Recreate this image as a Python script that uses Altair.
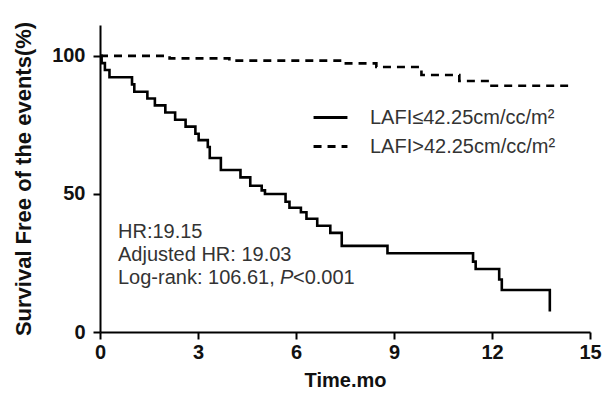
import altair as alt
import pandas as pd

# ---- data ----
lo_label = "LAFI≤42.25cm/cc/m²"
hi_label = "LAFI>42.25cm/cc/m²"

lo_time = [0, 0.05, 0.15, 0.29, 0.98, 1.05, 1.45, 1.68, 2.0, 2.3, 2.62, 2.92, 3.02,
           3.3, 3.36, 3.7, 4.3, 4.6, 4.95, 5.05, 5.68, 5.8, 6.15, 6.32, 6.65, 7.05,
           7.4, 8.8, 11.42, 11.5, 12.22, 12.3, 13.77]
lo_surv = [100, 97.4, 94.9, 92.3, 89.7, 87.0, 84.6, 82.1, 79.5, 76.9, 74.4, 71.8, 69.5,
           67.0, 63.0, 58.7, 56.0, 53.0, 51.3, 50.0, 47.2, 45.0, 43.4, 41.0, 38.5, 35.9,
           31.2, 28.5, 25.5, 22.8, 19.0, 15.2, 7.4]

hi_time = [0, 2.13, 3.96, 7.45, 8.46, 9.84, 11.0, 11.93, 14.33]
hi_surv = [100, 99.1, 98.3, 97.3, 96.0, 93.1, 90.9, 89.2, 89.2]

x_ticks = [0, 3, 6, 9, 12, 15]
y_ticks = [0, 50, 100]

annot = ["HR:19.15", "Adjusted HR: 19.03", "Log-rank: 106.61, ", "P", "<0.001"]

df = pd.DataFrame({
    "time": lo_time + hi_time,
    "surv": lo_surv + hi_surv,
    "group": [lo_label] * len(lo_time) + [hi_label] * len(hi_time),
})

FONT = "Liberation Sans"

lines = alt.Chart(df).mark_line(
    interpolate="step-after", color="black", strokeWidth=2.6
).encode(
    x=alt.X("time:Q",
            scale=alt.Scale(domain=[0, 15], nice=False),
            axis=alt.Axis(values=x_ticks, title="Time.mo", titlePadding=8,
                          labelPadding=3, labelFlush=False, titleFontSize=20)),
    y=alt.Y("surv:Q",
            scale=alt.Scale(domain=[0, 111.2], nice=False),
            axis=alt.Axis(values=y_ticks, title="Survival Free of the events(%)",
                          titlePadding=16, labelPadding=8, titleFontSize=22)),
    strokeDash=alt.StrokeDash(
        "group:N",
        scale=alt.Scale(domain=[lo_label, hi_label], range=[[1, 0], [8, 6]]),
        legend=alt.Legend(
            orient="none", legendX=212, legendY=74, title=None,
            symbolType="stroke", symbolSize=1150, symbolStrokeWidth=3,
            symbolStrokeColor="black", labelFont=FONT, labelFontSize=20,
            labelColor="#333333", labelOffset=21, labelLimit=400,
            rowPadding=0, padding=0,
        ),
    ),
)

one = pd.DataFrame({"k": [0]})


def txt(s, x, y, style="normal"):
    return alt.Chart(one).mark_text(
        text=s, align="left", baseline="alphabetic", font=FONT, fontSize=20,
        color="#333333", fontStyle=style,
    ).encode(x=alt.value(x), y=alt.value(y))


texts = (
    txt(annot[0], 18, 213)
    + txt(annot[1], 18, 236)
    + txt(annot[2], 18, 259)
    + txt(annot[3], 180, 259, "italic")
    + txt(annot[4], 193, 259)
)

chart = alt.layer(lines, texts).properties(
    width=490, height=307,
    autosize=alt.AutoSizeParams(type="none"),
    padding={"left": 92, "top": 17, "right": 12, "bottom": 58},
).configure_view(stroke=None).configure_axis(
    grid=False, domainColor="black", domainWidth=2, tickColor="black",
    tickWidth=2, tickSize=7, labelFont=FONT, labelFontSize=20,
    labelFontWeight="bold", labelColor="#111111",
    titleFont=FONT, titleFontWeight="bold", titleColor="#111111",
)

chart.save("out.html", embed_options={"renderer": "svg", "actions": False})
